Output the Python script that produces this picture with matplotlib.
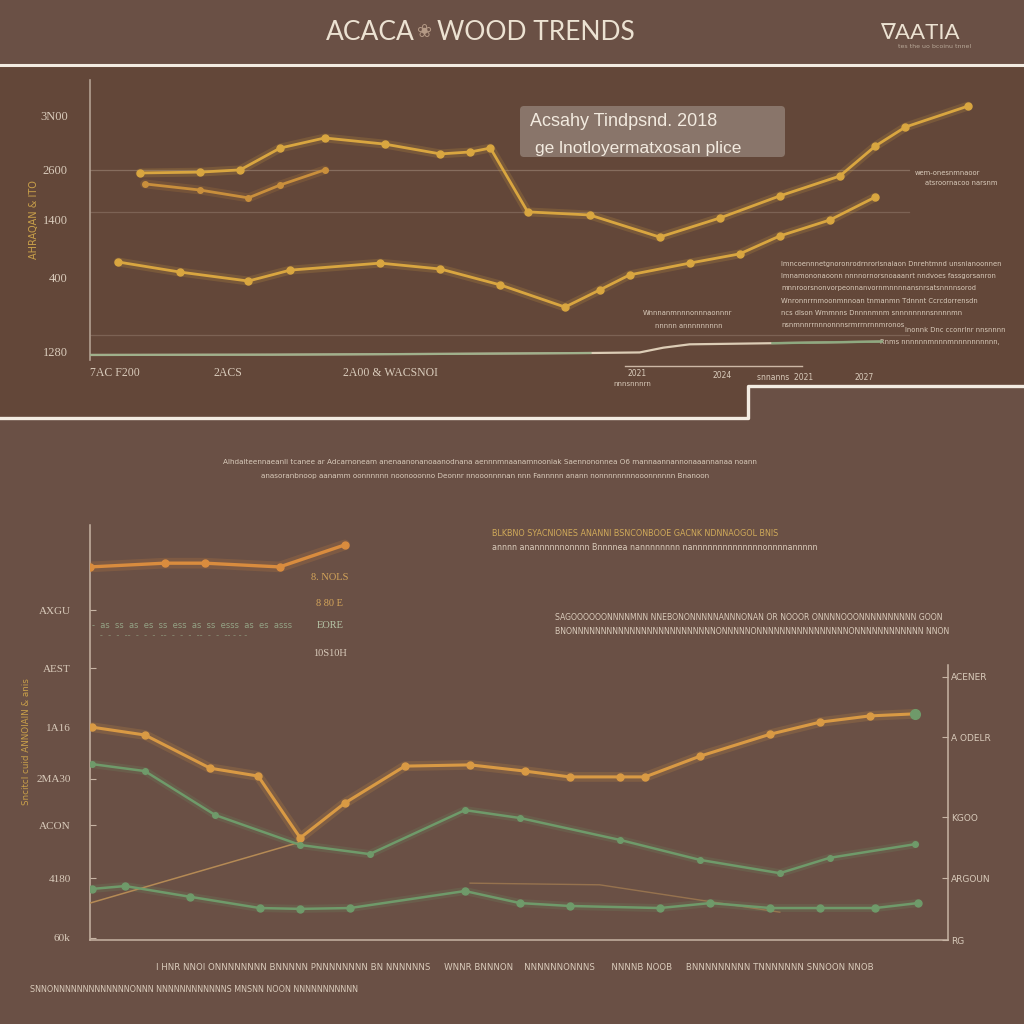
import matplotlib
matplotlib.use("Agg")
import matplotlib.pyplot as plt
from matplotlib.patches import FancyBboxPatch, Rectangle

# ---------------- data ----------------
# top panel (x: 0-100 timeline, y: 0-100 index)
top_a_x = [5.5, 12.1, 16.5, 20.9, 25.8, 32.4, 38.5, 41.8, 44.0, 48.1, 54.9, 62.6, 69.2, 75.8, 82.4, 86.3, 89.6, 96.5]
top_a_y = [66.8, 67.1, 67.9, 75.7, 79.3, 77.1, 73.6, 74.3, 75.7, 52.9, 51.8, 43.9, 50.7, 58.6, 65.7, 76.4, 83.2, 90.7]
top_b_x = [6.0, 12.1, 17.4, 20.9, 25.8]
top_b_y = [62.9, 60.7, 57.9, 62.5, 67.9]
top_c_x = [3.1, 9.9, 17.4, 22.0, 31.9, 38.5, 45.1, 52.2, 56.0, 59.3, 65.9, 71.4, 75.8, 81.3, 86.3]
top_c_y = [35.0, 31.4, 28.2, 32.1, 34.6, 32.5, 26.8, 18.9, 25.0, 30.4, 34.6, 37.9, 44.3, 50.0, 58.2]
top_d_x = [0, 20, 40, 55, 60.4, 63.0, 65.9, 75.0, 87.0]
top_d_y = [1.8, 1.9, 2.2, 2.5, 2.7, 4.4, 5.6, 6.0, 6.6]
top_ytick_vals = [87.5, 67.9, 50.0, 29.3, 2.9]
top_ytick_labels = ["3N00", "2600", "1400", "400", "1280"]

# bottom panel
bot_e_x = [0.0, 8.7, 13.4, 22.1, 29.7]
bot_e_y = [89.9, 90.8, 90.8, 89.9, 95.2]
bot_f_x = [0.2, 6.4, 14.0, 19.6, 24.5, 29.7, 36.7, 44.3, 50.7, 55.9, 61.8, 64.7, 71.1, 79.3, 85.1, 90.9, 96.2]
bot_f_y = [51.3, 49.4, 41.4, 39.5, 24.6, 33.0, 41.9, 42.2, 40.7, 39.3, 39.3, 39.3, 44.3, 49.6, 52.5, 54.0, 54.5]
bot_g_x = [0.2, 6.4, 14.6, 24.5, 32.6, 43.7, 50.1, 61.8, 71.1, 80.4, 86.2, 96.2]
bot_g_y = [42.4, 40.7, 30.1, 22.9, 20.7, 31.3, 29.4, 24.1, 19.3, 16.1, 19.8, 23.1]
bot_h_x = [0.2, 4.1, 11.7, 19.8, 24.5, 30.3, 43.7, 50.1, 55.9, 66.4, 72.3, 79.3, 85.1, 91.5, 96.5]
bot_h_y = [12.3, 13.0, 10.4, 7.7, 7.5, 7.7, 11.8, 8.9, 8.2, 7.7, 8.9, 7.7, 7.7, 7.7, 8.9]
bot_i_x = [0.0, 24.5]
bot_i_y = [8.9, 23.6]
bot_j_x = [44.3, 59.4, 80.4]
bot_j_y = [13.7, 13.3, 6.7]
bot_ytick_vals = [79.5, 65.5, 51.3, 38.8, 27.7, 14.9, 0.5]
bot_ytick_labels = ["AXGU", "AEST", "1A16", "2MA30", "ACON", "4180", "60k"]
bot_rtick_vals = [63.4, 48.9, 29.6, 14.9, 0.0]
bot_rtick_labels = ["ACENER", "A ODELR", "KGOO", "ARGOUN", "RG"]

# ---------------- style ----------------
BG = "#6a5045"
TOPBG = "#634739"
CREAM = "#ece2d2"
TXT = "#d9cbbb"
GOLD = "#d9a640"
ORANGE = "#d98c3e"
GREEN = "#6f9a6a"

plt.rcParams['font.family'] = ['DejaVu Sans']
fig = plt.figure(figsize=(10.24, 10.24), dpi=100, facecolor=BG)

deco = fig.add_axes([0, 0, 1, 1], zorder=0)
deco.set_xlim(0, 1024)
deco.set_ylim(1024, 0)
deco.axis("off")
deco.set_facecolor(BG)

# panel backgrounds
deco.add_patch(Rectangle((0, 66), 1024, 352, facecolor=TOPBG, edgecolor="none", zorder=0))
deco.add_patch(Rectangle((748, 386), 276, 32, facecolor=BG, edgecolor="none", zorder=0))

# separators
deco.plot([0, 1024], [65, 65], color="#f3ece2", lw=2.2, zorder=2)
deco.plot([0, 748, 748, 1024], [418, 418, 386, 386], color="#f3ece2", lw=2.4, zorder=2)
deco.plot([625, 802], [366, 366], color="#cdb8a6", lw=1.0, zorder=2)

# title
deco.text(370, 33, "ACACA", color=CREAM, fontsize=19, fontfamily="Lato", ha="center", va="center")
deco.text(425, 32, "\u2740", color="#b59a86", fontsize=13, ha="center", va="center")
deco.text(536, 33, "WOOD TRENDS", color=CREAM, fontsize=19, fontfamily="Lato", ha="center", va="center")
deco.text(920, 33, "\u2207AATIA", color=CREAM, fontsize=16, family=["Lato", "DejaVu Sans"],
          ha="center", va="center")
deco.text(935, 47, "tes the uo bcoinu tnnel", color="#b8a898", fontsize=4.5, ha="center", va="center")

# legend box
deco.add_patch(FancyBboxPatch((520, 106), 265, 51, boxstyle="round,pad=0,rounding_size=4",
                              facecolor="#8e7b70", edgecolor="none", alpha=0.9, zorder=3))
deco.text(530, 121, "Acsahy Tindpsnd. 2018", color="#f2eadf", fontsize=13, fontfamily="Liberation Sans",
          va="center", ha="left", zorder=4)
deco.text(535, 148, "ge lnotloyermatxosan plice", color="#f2eadf", fontsize=12.5, fontfamily="Liberation Sans",
          va="center", ha="left", zorder=4)

# y labels (rotated)
deco.text(34, 220, "AHRAQAN & ITO", color="#c9a04a", fontsize=7, rotation=90, ha="center", va="center")
deco.text(27, 742, "Sncitcl cuid ANNOIAIN & anis", color="#c9a04a", fontsize=6.3, rotation=90,
          ha="center", va="center")

# top panel right notes
small = dict(color=TXT, fontsize=4.9, ha="left", va="center", fontfamily="DejaVu Sans Condensed")
deco.text(915, 173, "wem-onesnmnaoor", **small)
deco.text(925, 183, "atsroornacoo narsnm", **small)
notes = ["lmncoennnetgnoronrodrnrorisnaiaon Dnrehtmnd unsnianoonnen",
         "lmnamononaoonn nnnnornorsnoaaanrt nndvoes fassgorsanron",
         "mnnroorsnonvorpeonnanvornmnnnnansnrsatsnnnnsorod",
         "Wnronnrrnmoonmnnoan tnmanmn Tdnnnt Ccrcdorrensdn",
         "ncs dlson Wmmnns Dnnnnmnm snnnnnnnnsnnnnmn",
         "nsnmnnrrnnnonnnsrmrrnrnnmronos"]
for i, s in enumerate(notes):
    deco.text(781, 264 + i * 12.2, s, **small)
deco.text(905, 330, "lnonnk Dnc cconrlnr nnsnnnn", **small)
deco.text(880, 342, "Rnms nnnnnnmnnnmnnnnnnnnnn,", **small)
deco.text(643, 313, "Wnnnanmnnnonnnaonnnr", **small)
deco.text(655, 326, "nnnnn annnnnnnnn", **small)

# top x labels
xl = dict(color=TXT, fontsize=8.5, fontfamily="Liberation Serif", ha="center", va="center")
deco.text(115, 373, "7AC F200", **xl)
deco.text(228, 373, "2ACS", **xl)
deco.text(390, 373, "2A00 & WACSNOI", **xl)
deco.text(637, 374, "2021", color=TXT, fontsize=5.5, ha="center", va="center")
deco.text(632, 384, "nnnsnnnrn", color=TXT, fontsize=5, ha="center", va="center")
deco.text(722, 376, "2024", color=TXT, fontsize=5.5, ha="center", va="center")
deco.text(785, 377, "snnanns  2021", color=TXT, fontsize=5.5, ha="center", va="center")
deco.text(864, 377, "2027", color=TXT, fontsize=5.5, ha="center", va="center")

# bottom paragraph
para = dict(color=TXT, fontsize=5.2, ha="center", va="center", fontfamily="DejaVu Sans Condensed")
deco.text(490, 462, "Alhdaiteennaeanli tcanee ar Adcarnoneam anenaanonanoaanodnana aennnmnaanamnooniak Saennononnea O6 mannaannannonaaannanaa noann", **para)
deco.text(485, 476, "anasoranbnoop aanamm oonnnnnn noonooonno Deonnr nnooonnnnan nnn Fannnnn anann nonnnnnnnnooonnnnnn Bnanoon", **para)

# bottom annotations
gp = dict(color="#d0aa5a", fontsize=5.8, ha="left", va="center", fontfamily="DejaVu Sans Condensed")
deco.text(492, 533, "BLKBNO SYACNIONES ANANNI BSNCONBOOE GACNK NDNNAOGOL BNIS", **gp)
deco.text(492, 548, "annnn anannnnnnonnnn Bnnnnea nannnnnnnn nannnnnnnnnnnnnnonnnnannnnn", color=TXT, fontsize=5.8,
          ha="left", va="center", fontfamily="DejaVu Sans Condensed")
deco.text(555, 618, "SAGOOOOOONNNNMNN NNEBONONNNNNANNNONAN OR NOOOR ONNNNOOONNNNNNNNNN GOON", color=TXT, fontsize=5.6,
          ha="left", va="center", fontfamily="DejaVu Sans Condensed")
deco.text(555, 632, "BNONNNNNNNNNNNNNNNNNNNNNNNNNONNNNNONNNNNNNNNNNNNNNNONNNNNNNNNNNN NNON", color=TXT, fontsize=5.6,
          ha="left", va="center", fontfamily="DejaVu Sans Condensed")
deco.text(330, 578, "8. NOLS", color="#d4a55a", fontsize=7.5, ha="center", va="center", fontfamily="Liberation Serif")
deco.text(330, 604, "8 80 E", color="#d4a55a", fontsize=7.5, ha="center", va="center", fontfamily="Liberation Serif")
deco.text(330, 626, "EORE", color="#b7c6a8", fontsize=7.5, ha="center", va="center", fontfamily="Liberation Serif")
deco.text(330, 654, "10S10H", color=TXT, fontsize=7.5, ha="center", va="center", fontfamily="Liberation Serif")
deco.text(92, 625, "-  as  ss  as  es  ss  ess  as  ss  esss  as  es  asss", color="#9fb896", fontsize=6,
          ha="left", va="center", alpha=0.8)
deco.text(92, 636, "   -  -  -  --  -  -  -  --  -  -  -  --  -  -  -- - - -", color="#9fb896", fontsize=6,
          ha="left", va="center", alpha=0.6)

# footer
deco.text(515, 968, "I HNR NNOI ONNNNNNNN BNNNNN PNNNNNNNN BN NNNNNNS     WNNR BNNNON    NNNNNNONNNS      NNNNB NOOB     "
          "BNNNNNNNNN TNNNNNNN SNNOON NNOB", color=TXT, fontsize=6.2, ha="center", va="center",
          fontfamily="DejaVu Sans Condensed")
deco.text(30, 990, "SNNONNNNNNNNNNNNNONNN NNNNNNNNNNNNS MNSNN NOON NNNNNNNNNNN", color=TXT, fontsize=5.8,
          ha="left", va="center", fontfamily="DejaVu Sans Condensed")

# ---------------- top data axes ----------------
axt = fig.add_axes([90 / 1024, 1 - 360 / 1024, 910 / 1024, 280 / 1024], zorder=2)
axt.patch.set_alpha(0)
axt.set_xlim(0, 100)
axt.set_ylim(0, 100)
for s in ["top", "right", "bottom"]:
    axt.spines[s].set_visible(False)
axt.spines["left"].set_color("#b3a091")
axt.spines["left"].set_linewidth(1.2)
axt.set_xticks([])
axt.set_yticks(top_ytick_vals)
axt.set_yticklabels(top_ytick_labels, fontfamily="Liberation Serif", fontsize=9, color=TXT)
axt.tick_params(axis="y", length=0, pad=16)
for v, a in [(67.9, 0.35), (52.9, 0.25), (8.9, 0.25)]:
    axt.axhline(v, xmin=0, xmax=0.9, color="#c8b6a6", lw=0.9, alpha=a)


def glow(ax, x, y, color, lw, ms, alpha=1.0):
    ax.plot(x, y, color=color, lw=lw * 3.2, alpha=0.18 * alpha, solid_capstyle="round", zorder=3)
    ax.plot(x, y, color=color, lw=lw, alpha=alpha, marker="o", ms=ms, solid_capstyle="round",
            solid_joinstyle="round", zorder=4)


glow(axt, top_a_x, top_a_y, GOLD, 2.0, 5)
glow(axt, top_b_x, top_b_y, "#c98f3c", 2.0, 4)
glow(axt, top_c_x, top_c_y, GOLD, 2.0, 5)
axt.plot(top_d_x, top_d_y, color="#ddcdb6", lw=1.6, zorder=3)
axt.plot(top_d_x[:4], top_d_y[:4], color=GREEN, lw=1.6, alpha=0.55, zorder=3)
axt.plot(top_d_x[-2:], top_d_y[-2:], color=GREEN, lw=1.8, alpha=0.7, zorder=3)

# ---------------- bottom data axes ----------------
axb = fig.add_axes([90 / 1024, 1 - 940 / 1024, 858 / 1024, 415 / 1024], zorder=2)
axb.patch.set_alpha(0)
axb.set_xlim(0, 100)
axb.set_ylim(0, 100)
axb.spines["top"].set_visible(False)
for s in ["left", "right", "bottom"]:
    axb.spines[s].set_color("#c7b4a4")
    axb.spines[s].set_linewidth(1.1)
axb.spines["right"].set_bounds(0, 66.3)
axb.set_xticks([])
axb.set_yticks(bot_ytick_vals)
axb.set_yticklabels(bot_ytick_labels, fontfamily="Liberation Serif", fontsize=8, color=TXT)
axb.tick_params(axis="y", length=4, color="#c7b4a4", pad=14, direction="in")
axr = axb.twinx()
axr.set_ylim(0, 100)
for s in ["top", "left", "bottom", "right"]:
    axr.spines[s].set_visible(False)
axr.set_yticks(bot_rtick_vals)
axr.set_yticklabels(bot_rtick_labels, fontfamily="DejaVu Sans Condensed", fontsize=6.5, color=TXT)
axr.tick_params(axis="y", length=4, color="#c7b4a4", pad=2, direction="in")

glow(axb, bot_e_x, bot_e_y, ORANGE, 2.4, 5)
glow(axb, bot_f_x, bot_f_y, "#d99a44", 2.2, 5)
glow(axb, bot_g_x, bot_g_y, GREEN, 1.8, 4)
glow(axb, bot_h_x, bot_h_y, GREEN, 1.8, 5)
axb.plot(bot_i_x, bot_i_y, color="#b58a55", lw=1.1, zorder=3)
axb.plot(bot_j_x, bot_j_y, color="#b58a55", lw=1.0, alpha=0.6, zorder=3)
axb.plot([bot_f_x[-1]], [bot_f_y[-1]], "o", color=GREEN, ms=7, zorder=5)

fig.savefig("out.png", dpi=100, facecolor=BG)
